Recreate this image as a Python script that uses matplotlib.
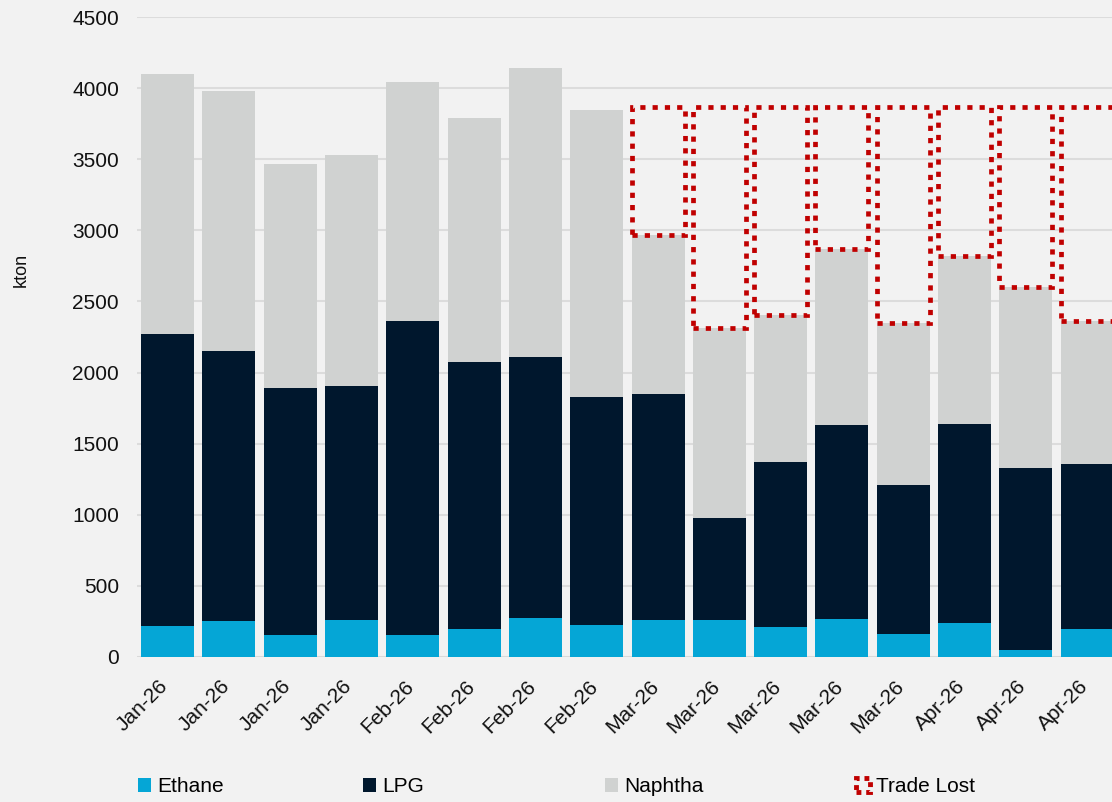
import matplotlib
matplotlib.use("Agg")
import matplotlib.pyplot as plt
import matplotlib.transforms as mtransforms
from matplotlib.patches import Patch
import numpy as np

plt.rcParams['font.family'] = ['Liberation Sans', 'DejaVu Sans']

months = ['Jan-26', 'Jan-26', 'Jan-26', 'Jan-26', 'Feb-26', 'Feb-26', 'Feb-26', 'Feb-26',
          'Mar-26', 'Mar-26', 'Mar-26', 'Mar-26', 'Mar-26', 'Apr-26', 'Apr-26', 'Apr-26']
ethane = [220, 253, 155, 258, 152, 195, 272, 225, 262, 262, 211, 267, 159, 239, 47, 199]
lpg = [2052, 1900, 1736, 1647, 2210, 1879, 1837, 1606, 1587, 715, 1160, 1364, 1050, 1399, 1282, 1158]
naphtha = [1827, 1827, 1575, 1625, 1681, 1716, 2032, 2015, 1118, 1334, 1032, 1236, 1142, 1182, 1275, 1008]
# lost volume on top of each week from March (0 = none)
trade_lost = [0, 0, 0, 0, 0, 0, 0, 0, 898, 1554, 1462, 998, 1514, 1045, 1261, 1500]

c_ethane = '#05A6D6'
c_lpg = '#00172D'
c_naphtha = '#D0D2D1'
c_lost = '#C00000'
bg = '#F2F2F2'

fig = plt.figure(figsize=(11.12, 8.02), dpi=100, facecolor=bg)
ax = fig.add_axes([0.1232, 0.1808, 0.882, 0.798], facecolor=bg)

x = np.arange(len(months))
w = 0.865
e = np.array(ethane)
l = np.array(lpg)
n = np.array(naphtha)
t = np.array(trade_lost)

ax.bar(x, e, w, color=c_ethane, zorder=2)
ax.bar(x, l, w, bottom=e, color=c_lpg, zorder=2)
ax.bar(x, n, w, bottom=e + l, color=c_naphtha, zorder=2)
m = t > 0
ax.bar(x[m], t[m], w, bottom=(e + l + n)[m], facecolor='none', edgecolor=c_lost,
       linewidth=3.4, linestyle=(0, (1.1, 1.5)), zorder=3)

ax.set_xlim(-0.5, len(months) - 0.5)
ax.set_ylim(0, 4500)
ax.set_yticks(np.arange(0, 4501, 500))
ax.yaxis.grid(True, color='#DCDCDC', linewidth=1.5, zorder=0)
ax.set_axisbelow(True)
for s in ax.spines.values():
    s.set_visible(False)
ax.axhline(0, color='#D9D9D9', linewidth=2, zorder=1)
ax.tick_params(axis='both', length=0, labelsize=15, colors='#111111')
ax.tick_params(axis='y', pad=13)
ax.set_xticks(x)
ax.set_xticklabels(months, rotation=45, ha='right', va='top', rotation_mode='anchor')
ax.tick_params(axis='x', pad=12)
shift = mtransforms.ScaledTranslation(-9 / 100, -3 / 100, fig.dpi_scale_trans)
for lab in ax.get_xticklabels():
    lab.set_transform(lab.get_transform() + shift)

fig.text(0.019, 0.663, 'kton', rotation=90, fontsize=13, color='#111111',
         ha='center', va='center')

# legend entries spread along the bottom
entries = [
    (Patch(facecolor=c_ethane), 'Ethane', 0.124),
    (Patch(facecolor=c_lpg), 'LPG', 0.326),
    (Patch(facecolor=c_naphtha), 'Naphtha', 0.544),
    (Patch(facecolor='none', edgecolor=c_lost, linewidth=3.5, linestyle=(0, (1, 1))),
     'Trade Lost', 0.770),
]
for h, lab, xpos in entries:
    fig.legend([h], [lab], loc='center left', bbox_to_anchor=(xpos, 0.019),
               frameon=False, fontsize=15, handlelength=0.65, handleheight=0.65,
               handletextpad=0.3, borderaxespad=0, borderpad=0)

fig.savefig('out.png', dpi=100, facecolor=bg)
